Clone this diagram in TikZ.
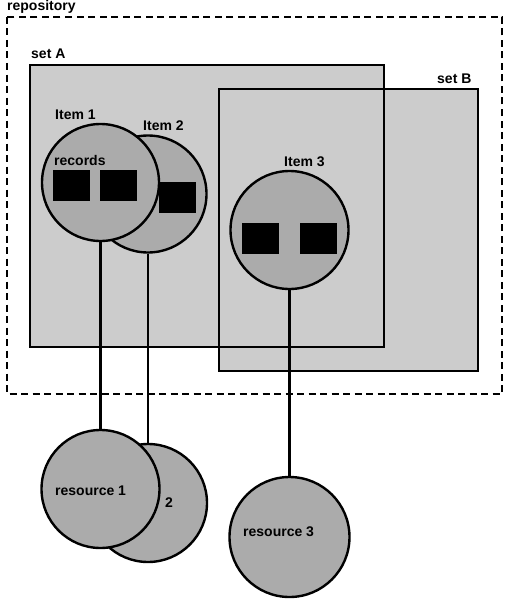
\documentclass[tikz,border=0pt]{standalone}
\usepackage{fontspec}
\setmainfont{Liberation Sans}
\usepackage{xcolor}
\usepackage{tikz}
\usetikzlibrary{positioning}

\definecolor{setgray}{gray}{0.8}
\definecolor{itemgray}{gray}{0.67}

\begin{document}
\begin{tikzpicture}[
					% Picture Styling
					x=1pt, y=-1pt,
					txt/.style={anchor=base west, inner sep=0pt, font=\bfseries\fontsize{14}{16}\selectfont},
					setbox/.style={draw, rectangle, line width=2.4pt, fill=setgray, inner sep=0pt, outer sep=0pt},
					item/.style={draw, circle, line width=2.4pt, fill=itemgray, minimum size=117pt, inner sep=0pt},
					rec/.style={rectangle, fill=black, minimum width=37pt, minimum height=31pt, inner sep=0pt},
					link/.style={line width=2.2pt}
				]
				\useasboundingbox (0,0) rectangle (509,602);
				% Repositorio
				\node[txt] (repo_lbl) at (7,11) {repository};
				\draw[line width=2.4pt, dash pattern=on 7pt off 4.5pt] (7,17) rectangle (502,394);
				% Conjuntos A y B
				\node[setbox, minimum width=354pt, minimum height=282pt] (setA) at (207,206) {};
				\node[setbox, minimum width=259pt, minimum height=282pt] (setB) at (348.5,230) {};
				\draw[line width=2.4pt] (setA.south west) rectangle (setA.north east);
				\node[txt] (setA_lbl) at (31,59) {set A};
				\node[txt] (setB_lbl) at (437,83) {set B};
				% Items
				\node[item] (item2) at (148,194) {};
				\node[rec] (rec2a) at (177.5,197.5) {};
				\node[item] (item1) at (100.5,182.5) {};
				\node[rec] (rec1a) at (71.5,185.5) {};
				\node[rec] (rec1b) at (118.5,185.5) {};
				\node[item, minimum size=118pt] (item3) at (289.5,230) {};
				\node[rec] (rec3a) at (260.5,238.5) {};
				\node[rec] (rec3b) at (318.5,238.5) {};
				\node[txt] (item1_lbl) at (55,119) {Item 1};
				\node[txt] (item2_lbl) at (143,130) {Item 2};
				\node[txt] (records_lbl) at (54,165) {records};
				\node[txt] (item3_lbl) at (284,166) {Item 3};
				% Recursos
				\node[item, minimum size=118pt] (res2) at (148,503) {};
				\node[item, minimum size=118pt] (res1) at (100.5,489) {};
				\node[item, minimum size=120pt] (res3) at (289.5,537) {};
				\node[txt] (res1_lbl) at (55,495) {resource 1};
				\node[txt] (res2_lbl) at (165,507) {2};
				\node[txt] (res3_lbl) at (243,536) {resource 3};
				% Enlaces
				\draw[link] (item1) -- (res1);
				\draw[link] (item2) -- (res2);
				\draw[link] (item3) -- (res3);
			\end{tikzpicture}
\end{document}
